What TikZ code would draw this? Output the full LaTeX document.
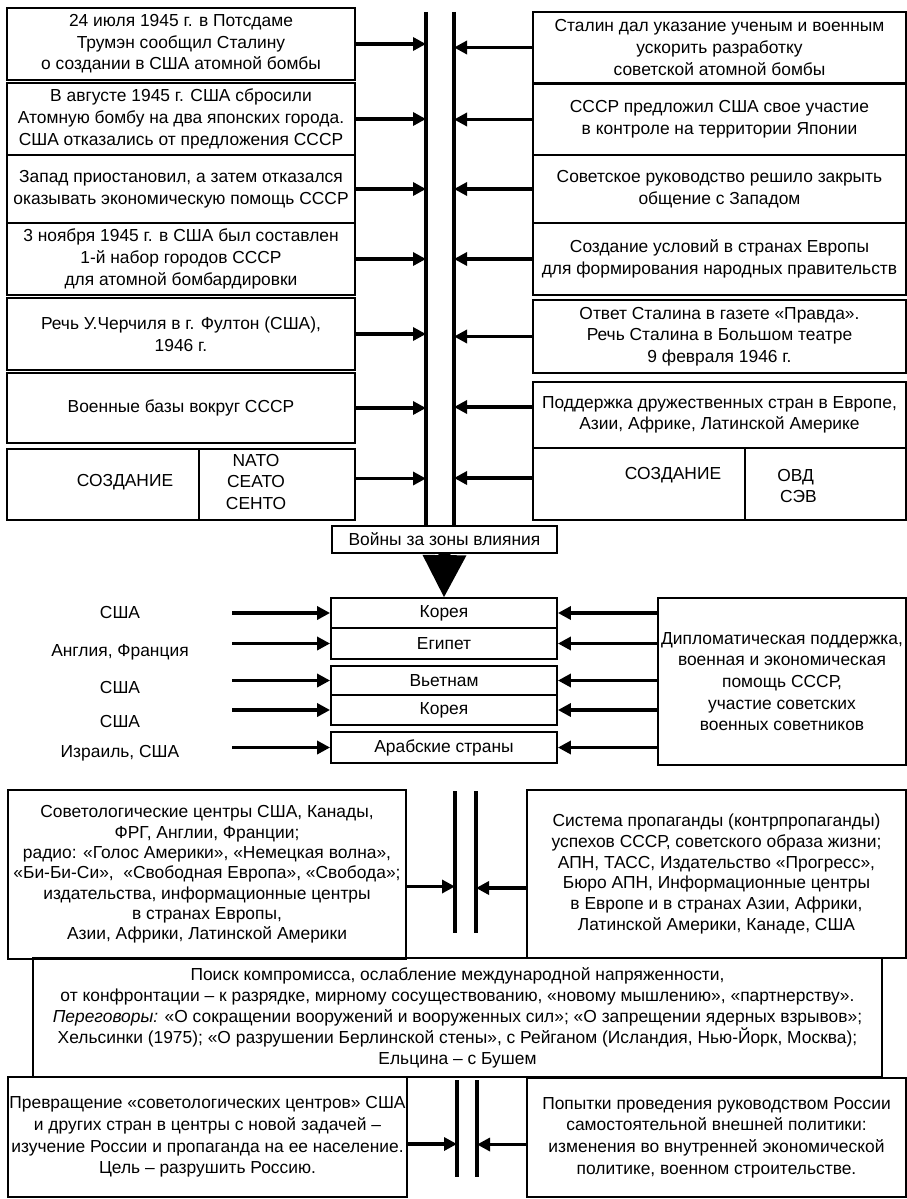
\documentclass[tikz,border=0pt]{standalone}
\usepackage{fontspec}
\setmainfont{Liberation Sans}
\usetikzlibrary{arrows.meta}

\begin{document}
\begin{tikzpicture}[x=1pt, y=-1pt, box/.style={draw, line width=1.8pt, align=center, inner sep=0pt, font=\fontsize{17.4}{21.6}\selectfont}, txt/.style={align=center, inner sep=0pt, font=\fontsize{17.4}{21.6}\selectfont}, arr/.style={line width=3.6pt, -{Triangle[length=13pt, width=13pt]}}, vline/.style={line width=4pt}]
\useasboundingbox (0,0) rectangle (907,1199);
\node[box, minimum width=348pt, minimum height=72pt] (l1) at (181,44) {24 июля 1945 г. в Потсдаме\\Трумэн сообщил Сталину\\о создании в США атомной бомбы};
\node[box, minimum width=348pt, minimum height=72pt] (l2) at (181,119) {В августе 1945 г. США сбросили\\Атомную бомбу на два японских города.\\США отказались от предложения СССР};
\node[box, minimum width=348pt, minimum height=68pt] (l3) at (181,189) {Запад приостановил, а затем отказался\\оказывать экономическую помощь СССР};
\node[box, minimum width=348pt, minimum height=72pt] (l4) at (181,259) {3 ноября 1945 г. в США был составлен\\1-й набор городов СССР\\для атомной бомбардировки};
\node[box, minimum width=348pt, minimum height=72pt] (l5) at (181,334) {Речь У.Черчиля в г. Фултон (США),\\1946 г.};
\node[box, minimum width=348pt, minimum height=70pt] (l6) at (181,408) {Военные базы вокруг СССР};
\node[box, minimum width=192pt, minimum height=71pt] (l7a) at (103,484.5) {};
\node[box, minimum width=156pt, minimum height=71pt] (l7b) at (277,484.5) {};
\node[txt] (l7t) at (125,482) {СОЗДАНИЕ};
\node[txt] (l7u) at (256,482) {NATO\\СЕАТО\\СЕНТО};
\node[box, minimum width=373pt, minimum height=71pt] (r1) at (719.5,47.5) {Сталин дал указание ученым и военным\\ускорить разработку\\советской атомной бомбы};
\node[box, minimum width=373pt, minimum height=71pt] (r2) at (719.5,119.5) {СССР предложил США свое участие\\в контроле на территории Японии};
\node[box, minimum width=373pt, minimum height=68pt] (r3) at (719.5,189) {Советское руководство решило закрыть\\общение с Западом};
\node[box, minimum width=373pt, minimum height=72pt] (r4) at (719.5,259) {Создание условий в странах Европы\\для формирования народных правительств};
\node[box, minimum width=373pt, minimum height=73pt] (r5) at (719.5,336.5) {Ответ Сталина в газете «Правда».\\Речь Сталина в Большом театре\\9 февраля 1946 г.};
\node[box, minimum width=373pt, minimum height=66pt] (r6) at (719.5,415) {Поддержка дружественных стран в Европе,\\Азии, Африке, Латинской Америке};
\node[box, minimum width=212pt, minimum height=72pt] (r7a) at (639,484) {};
\node[box, minimum width=161pt, minimum height=72pt] (r7b) at (825.5,484) {};
\node[txt] (r7t) at (673,475) {СОЗДАНИЕ};
\node[txt, align=left] (r7u) at (797,486) {ОВД\\\,СЭВ};
\node[box, minimum width=225pt, minimum height=27pt] (war) at (444.5,539.5) {Войны за зоны влияния};
\coordinate (vl) at (426,12);
\coordinate (vr) at (454,12);
\draw[vline] (vl) -- (vl |- war.north);
\draw[vline] (vr) -- (vr |- war.north);
\draw[arr] (l1.east) -- (l1.east -| vl);
\draw[arr] (l2.east) -- (l2.east -| vl);
\draw[arr] (l3.east) -- (l3.east -| vl);
\draw[arr] (l4.east) -- (l4.east -| vl);
\draw[arr] (l5.east) -- (l5.east -| vl);
\draw[arr] (l6.east) -- (l6.east -| vl);
\draw[arr] ([yshift=6pt]l7b.east) -- ([yshift=6pt]l7b.east -| vl);
\draw[arr] (r1.west) -- (r1.west -| vr);
\draw[arr] (r2.west) -- (r2.west -| vr);
\draw[arr] (r3.west) -- (r3.west -| vr);
\draw[arr] (r4.west) -- (r4.west -| vr);
\draw[arr] (r5.west) -- (r5.west -| vr);
\draw[arr] ([yshift=8pt]r6.west) -- ([yshift=8pt]r6.west -| vr);
\draw[arr] ([yshift=6pt]r7a.west) -- ([yshift=6pt]r7a.west -| vr);
\node[box, minimum width=226pt, minimum height=30pt] (k1) at (444,613) {Корея};
\node[box, minimum width=226pt, minimum height=31pt] (eg) at (444,643.5) {Египет};
\node[box, minimum width=226pt, minimum height=29pt] (vn) at (444,680.5) {Вьетнам};
\node[box, minimum width=226pt, minimum height=30pt] (k2) at (444,710) {Корея};
\node[box, minimum width=226pt, minimum height=31pt] (ar) at (444,747.5) {Арабские страны};
\draw[line width=12pt, -{Triangle[length=42pt, width=44pt, line width=0pt]}] (war.south) -- (k1.north);
\node[txt] (c1) at (120,613) {США};
\node[txt] (c2) at (120,652) {Англия, Франция};
\node[txt] (c3) at (120,688) {США};
\node[txt] (c4) at (120,722) {США};
\node[txt] (c5) at (120,753) {Израиль, США};
\coordinate (la) at (232,613);
\draw[arr] (k1.west -| la) -- (k1.west);
\draw[arr] (eg.west -| la) -- (eg.west);
\draw[arr] (vn.west -| la) -- (vn.west);
\draw[arr] (k2.west -| la) -- (k2.west);
\draw[arr] (ar.west -| la) -- (ar.west);
\node[box, minimum width=248pt, minimum height=167pt] (help) at (782,681.5) {Дипломатическая поддержка,\\военная и экономическая\\помощь СССР,\\участие советских\\военных советников};
\draw[arr] (k1.east -| help.west) -- (k1.east);
\draw[arr] (eg.east -| help.west) -- (eg.east);
\draw[arr] (vn.east -| help.west) -- (vn.east);
\draw[arr] (k2.east -| help.west) -- (k2.east);
\draw[arr] (ar.east -| help.west) -- (ar.east);
\node[box, minimum width=398pt, minimum height=169pt, font=\fontsize{17.4}{20.3}\selectfont] (sov) at (207,874.5) {Советологические центры США, Канады,\\ФРГ, Англии, Франции;\\радио: «Голос Америки», «Немецкая волна»,\\«Би-Би-Си», \ «Свободная Европа», «Свобода»;\\издательства, информационные центры\\в странах Европы,\\Азии, Африки, Латинской Америки};
\node[box, minimum width=379pt, minimum height=168pt, font=\fontsize{17.4}{20.8}\selectfont] (prop) at (716.5,874) {Система пропаганды (контрпропаганды)\\успехов СССР, советского образа жизни;\\АПН, ТАСС, Издательство «Прогресс»,\\Бюро АПН, Информационные центры\\в Европе и в странах Азии, Африки,\\Латинской Америки, Канаде, США};
\coordinate (ma) at (455,791);
\coordinate (mb) at (476,791);
\draw[vline] (ma) -- ++(0,142);
\draw[vline] (mb) -- ++(0,142);
\draw[arr] ([yshift=-12pt]sov.east) -- ([yshift=-12pt]sov.east -| ma);
\draw[arr] ([yshift=-14pt]prop.west) -- ([yshift=-14pt]prop.west -| mb);
\node[box, minimum width=849pt, minimum height=119pt, font=\fontsize{17.4}{21}\selectfont] (deal) at (457.5,1017.5) {Поиск компромисса, ослабление международной напряженности,\\от конфронтации – к разрядке, мирному сосуществованию, «новому мышлению», «партнерству».\\\textit{Переговоры:} «О сокращении вооружений и вооруженных сил»; «О запрещении ядерных взрывов»;\\Хельсинки (1975); «О разрушении Берлинской стены», с Рейганом (Исландия, Нью-Йорк, Москва);\\Ельцина – с Бушем};
\node[box, minimum width=399pt, minimum height=120pt] (conv) at (207.5,1137) {Превращение «советологических центров» США\\и других стран в центры с новой задачей –\\изучение России и пропаганда на ее население.\\Цель – разрушить Россию.};
\node[box, minimum width=379pt, minimum height=119pt] (tries) at (716.5,1137.5) {Попытки проведения руководством России\\самостоятельной внешней политики:\\изменения во внутренней экономической\\политике, военном строительстве.};
\coordinate (na) at (457,1080);
\coordinate (nb) at (477,1080);
\draw[vline] (na) -- ++(0,97);
\draw[vline] (nb) -- ++(0,97);
\draw[arr] ([yshift=-7pt]conv.east) -- ([yshift=-7pt]conv.east -| na);
\draw[arr] ([yshift=-7pt]tries.west) -- ([yshift=-7pt]tries.west -| nb);
\end{tikzpicture}
\end{document}
